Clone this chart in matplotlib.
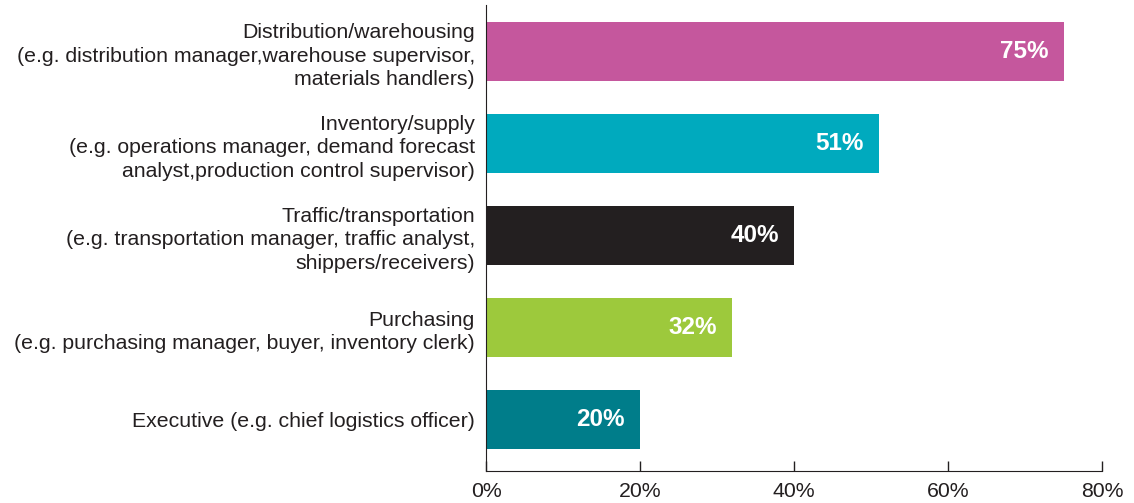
import matplotlib.pyplot as plt

plt.rcParams['font.family'] = ['Liberation Sans', 'DejaVu Sans']

# Data
categories = [
    'Distribution/warehousing\n(e.g. distribution manager,warehouse supervisor,\nmaterials handlers)',
    'Inventory/supply\n(e.g. operations manager, demand forecast\nanalyst,production control supervisor)',
    'Traffic/transportation\n(e.g. transportation manager, traffic analyst,\nshippers/receivers)',
    'Purchasing\n(e.g. purchasing manager, buyer, inventory clerk)',
    'Executive (e.g. chief logistics officer)',
]
values = [75, 51, 40, 32, 20]
colors = ['#C5579D', '#00AABE', '#231F20', '#9DC93C', '#007D8A']
xticks = [0, 20, 40, 60, 80]

fig = plt.figure(figsize=(11.34, 5.03), dpi=100)
ax = fig.add_axes([0.4286, 0.0636, 0.5432, 0.9264])

pos = list(range(len(values)))
ax.barh(pos, values, height=0.64, color=colors)

# value labels inside the bar ends
for p, v in zip(pos, values):
    ax.text(v - 2, p, f'{v}%', ha='right', va='center', color='white',
            fontsize=17.5, fontweight='bold')

ax.set_yticks(pos)
ax.set_yticklabels(categories, fontsize=15.3, color='#231F20', linespacing=1.28)
ax.tick_params(axis='y', length=0, pad=8)

ax.set_xlim(0, 80)
ax.set_ylim(4.56, -0.51)
ax.set_xticks(xticks)
ax.set_xticklabels([f'{t}%' for t in xticks], fontsize=15.3, color='#231F20')
ax.tick_params(axis='x', direction='in', length=7, width=1, color='#231F20', pad=8)

for s in ['top', 'right']:
    ax.spines[s].set_visible(False)
ax.spines['left'].set_color('#231F20')
ax.spines['bottom'].set_color('#231F20')

fig.savefig('out.png', dpi=100)
